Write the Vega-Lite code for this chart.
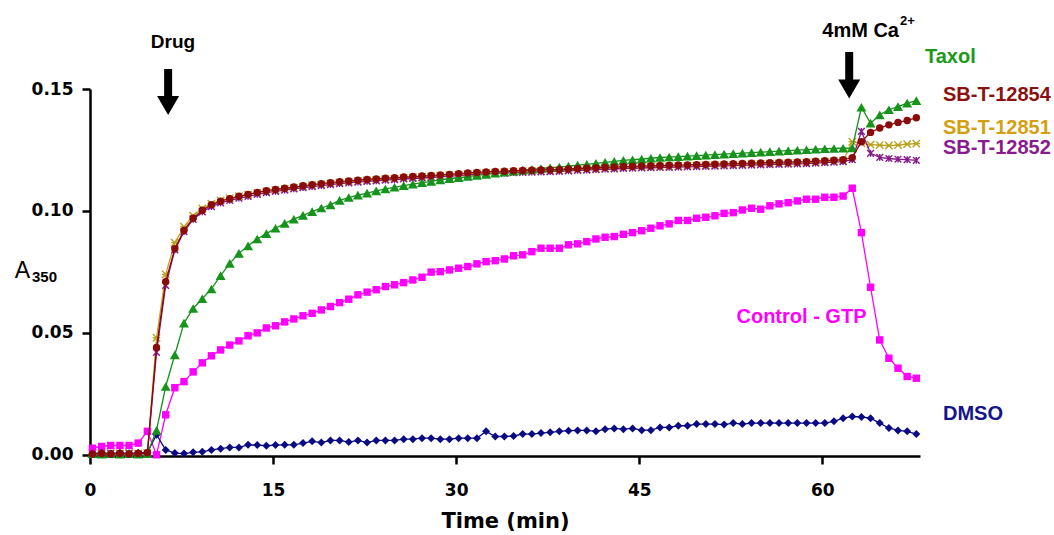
{
"$schema":"https://vega.github.io/schema/vega-lite/v6.json",
"width":830,"height":367,
"autosize":{"type":"none"},
"padding":{"left":90,"top":89,"right":134,"bottom":79},
"background":"white",
"config":{"view":{"stroke":null}},
"datasets":{
"control":[{"t":0.2,"v":0.0027},{"t":0.95,"v":0.0034},{"t":1.7,"v":0.0038},{"t":2.45,"v":0.0038},{"t":3.2,"v":0.0038},{"t":3.95,"v":0.0048},{"t":4.7,"v":0.0096},{"t":5.45,"v":0.0},{"t":6.2,"v":0.0164},{"t":6.95,"v":0.0275},{"t":7.7,"v":0.030},{"t":8.45,"v":0.034},{"t":9.2,"v":0.0377},{"t":9.95,"v":0.0406},{"t":10.7,"v":0.043},{"t":11.45,"v":0.045},{"t":12.2,"v":0.0467},{"t":12.95,"v":0.0488},{"t":13.7,"v":0.050},{"t":14.45,"v":0.052},{"t":15.2,"v":0.0529},{"t":15.95,"v":0.0545},{"t":16.7,"v":0.0557},{"t":17.45,"v":0.057},{"t":18.2,"v":0.058},{"t":18.95,"v":0.0594},{"t":19.7,"v":0.0608},{"t":20.45,"v":0.0624},{"t":21.2,"v":0.0638},{"t":21.95,"v":0.0656},{"t":22.7,"v":0.0667},{"t":23.45,"v":0.0677},{"t":24.2,"v":0.069},{"t":24.95,"v":0.0697},{"t":25.7,"v":0.0706},{"t":26.45,"v":0.0717},{"t":27.2,"v":0.0728},{"t":27.95,"v":0.0749},{"t":28.7,"v":0.0751},{"t":29.45,"v":0.0758},{"t":30.2,"v":0.0765},{"t":30.95,"v":0.0772},{"t":31.7,"v":0.0783},{"t":32.45,"v":0.0792},{"t":33.2,"v":0.0796},{"t":33.95,"v":0.0803},{"t":34.7,"v":0.0816},{"t":35.45,"v":0.082},{"t":36.2,"v":0.0833},{"t":36.95,"v":0.0847},{"t":37.7,"v":0.0847},{"t":38.45,"v":0.0847},{"t":39.2,"v":0.0861},{"t":39.95,"v":0.0865},{"t":40.7,"v":0.0874},{"t":41.45,"v":0.0885},{"t":42.2,"v":0.0892},{"t":42.95,"v":0.0895},{"t":43.7,"v":0.0904},{"t":44.45,"v":0.0911},{"t":45.2,"v":0.0919},{"t":45.95,"v":0.0929},{"t":46.7,"v":0.0939},{"t":47.45,"v":0.0947},{"t":48.2,"v":0.0961},{"t":48.95,"v":0.0961},{"t":49.7,"v":0.097},{"t":50.45,"v":0.0974},{"t":51.2,"v":0.098},{"t":51.95,"v":0.099},{"t":52.7,"v":0.0993},{"t":53.45,"v":0.1004},{"t":54.2,"v":0.1011},{"t":54.95,"v":0.1007},{"t":55.7,"v":0.1021},{"t":56.45,"v":0.1029},{"t":57.2,"v":0.1034},{"t":57.95,"v":0.1041},{"t":58.7,"v":0.1048},{"t":59.45,"v":0.1048},{"t":60.2,"v":0.1056},{"t":60.95,"v":0.1056},{"t":61.7,"v":0.1061},{"t":62.45,"v":0.1093},{"t":63.2,"v":0.0911},{"t":63.95,"v":0.0687},{"t":64.7,"v":0.0471},{"t":65.45,"v":0.0396},{"t":66.2,"v":0.0355},{"t":66.95,"v":0.0321},{"t":67.7,"v":0.0314}],
"dmso":[{"t":0.2,"v":0.0005},{"t":0.95,"v":0.0008},{"t":1.7,"v":0.0005},{"t":2.45,"v":0.0008},{"t":3.2,"v":0.0005},{"t":3.95,"v":0.0008},{"t":4.7,"v":0.001},{"t":5.45,"v":0.0082},{"t":6.2,"v":0.002},{"t":6.95,"v":0.0007},{"t":7.7,"v":0.0005},{"t":8.45,"v":0.001},{"t":9.2,"v":0.0012},{"t":9.95,"v":0.002},{"t":10.7,"v":0.0025},{"t":11.45,"v":0.003},{"t":12.2,"v":0.003},{"t":12.95,"v":0.0041},{"t":13.7,"v":0.004},{"t":14.45,"v":0.0037},{"t":15.2,"v":0.004},{"t":15.95,"v":0.0041},{"t":16.7,"v":0.0041},{"t":17.45,"v":0.0048},{"t":18.2,"v":0.0055},{"t":18.95,"v":0.005},{"t":19.7,"v":0.0059},{"t":20.45,"v":0.0059},{"t":21.2,"v":0.0052},{"t":21.95,"v":0.0059},{"t":22.7,"v":0.005},{"t":23.45,"v":0.0059},{"t":24.2,"v":0.0059},{"t":24.95,"v":0.0059},{"t":25.7,"v":0.0064},{"t":26.45,"v":0.0064},{"t":27.2,"v":0.0068},{"t":27.95,"v":0.0068},{"t":28.7,"v":0.0064},{"t":29.45,"v":0.0064},{"t":30.2,"v":0.0068},{"t":30.95,"v":0.0068},{"t":31.7,"v":0.0068},{"t":32.45,"v":0.0096},{"t":33.2,"v":0.0075},{"t":33.95,"v":0.0075},{"t":34.7,"v":0.0077},{"t":35.45,"v":0.0085},{"t":36.2,"v":0.0085},{"t":36.95,"v":0.0089},{"t":37.7,"v":0.0092},{"t":38.45,"v":0.0096},{"t":39.2,"v":0.0099},{"t":39.95,"v":0.01},{"t":40.7,"v":0.01},{"t":41.45,"v":0.0096},{"t":42.2,"v":0.0105},{"t":42.95,"v":0.0108},{"t":43.7,"v":0.0105},{"t":44.45,"v":0.0108},{"t":45.2,"v":0.0101},{"t":45.95,"v":0.0101},{"t":46.7,"v":0.0112},{"t":47.45,"v":0.0112},{"t":48.2,"v":0.0119},{"t":48.95,"v":0.0119},{"t":49.7,"v":0.0126},{"t":50.45,"v":0.0126},{"t":51.2,"v":0.0126},{"t":51.95,"v":0.0124},{"t":52.7,"v":0.013},{"t":53.45,"v":0.0126},{"t":54.2,"v":0.013},{"t":54.95,"v":0.013},{"t":55.7,"v":0.013},{"t":56.45,"v":0.013},{"t":57.2,"v":0.013},{"t":57.95,"v":0.013},{"t":58.7,"v":0.013},{"t":59.45,"v":0.013},{"t":60.2,"v":0.013},{"t":60.95,"v":0.0137},{"t":61.7,"v":0.015},{"t":62.45,"v":0.0157},{"t":63.2,"v":0.0155},{"t":63.95,"v":0.015},{"t":64.7,"v":0.013},{"t":65.45,"v":0.011},{"t":66.2,"v":0.01},{"t":66.95,"v":0.0096},{"t":67.7,"v":0.0085}],
"red":[{"t":0.2,"v":0.0003},{"t":0.95,"v":0.0005},{"t":1.7,"v":0.0003},{"t":2.45,"v":0.0005},{"t":3.2,"v":0.0003},{"t":3.95,"v":0.0005},{"t":4.7,"v":0.0008},{"t":5.45,"v":0.044},{"t":6.2,"v":0.071},{"t":6.95,"v":0.0845},{"t":7.7,"v":0.092},{"t":8.45,"v":0.097},{"t":9.2,"v":0.1003},{"t":9.95,"v":0.1025},{"t":10.7,"v":0.104},{"t":11.45,"v":0.105},{"t":12.2,"v":0.106},{"t":12.95,"v":0.1068},{"t":13.7,"v":0.1076},{"t":14.45,"v":0.1083},{"t":15.2,"v":0.1088},{"t":15.95,"v":0.1093},{"t":16.7,"v":0.1098},{"t":17.45,"v":0.1103},{"t":18.2,"v":0.1108},{"t":18.95,"v":0.1112},{"t":19.7,"v":0.1116},{"t":20.45,"v":0.112},{"t":21.2,"v":0.1123},{"t":21.95,"v":0.1126},{"t":22.7,"v":0.1129},{"t":23.45,"v":0.1131},{"t":24.2,"v":0.1134},{"t":24.95,"v":0.1136},{"t":25.7,"v":0.1139},{"t":26.45,"v":0.1141},{"t":27.2,"v":0.1143},{"t":27.95,"v":0.1145},{"t":28.7,"v":0.1148},{"t":29.45,"v":0.115},{"t":30.2,"v":0.1153},{"t":30.95,"v":0.1156},{"t":31.7,"v":0.1158},{"t":32.45,"v":0.116},{"t":33.2,"v":0.1162},{"t":33.95,"v":0.1163},{"t":34.7,"v":0.1165},{"t":35.45,"v":0.1166},{"t":36.2,"v":0.1167},{"t":36.95,"v":0.1168},{"t":37.7,"v":0.1169},{"t":38.45,"v":0.117},{"t":39.2,"v":0.1172},{"t":39.95,"v":0.1174},{"t":40.7,"v":0.1175},{"t":41.45,"v":0.1177},{"t":42.2,"v":0.1179},{"t":42.95,"v":0.118},{"t":43.7,"v":0.1182},{"t":44.45,"v":0.1183},{"t":45.2,"v":0.1184},{"t":45.95,"v":0.1185},{"t":46.7,"v":0.1186},{"t":47.45,"v":0.1187},{"t":48.2,"v":0.1188},{"t":48.95,"v":0.1189},{"t":49.7,"v":0.119},{"t":50.45,"v":0.1191},{"t":51.2,"v":0.1192},{"t":51.95,"v":0.1193},{"t":52.7,"v":0.1194},{"t":53.45,"v":0.1195},{"t":54.2,"v":0.1196},{"t":54.95,"v":0.1197},{"t":55.7,"v":0.1198},{"t":56.45,"v":0.1199},{"t":57.2,"v":0.12},{"t":57.95,"v":0.1201},{"t":58.7,"v":0.1202},{"t":59.45,"v":0.1204},{"t":60.2,"v":0.1206},{"t":60.95,"v":0.1208},{"t":61.7,"v":0.121},{"t":62.45,"v":0.1218},{"t":63.2,"v":0.1284},{"t":63.95,"v":0.1322},{"t":64.7,"v":0.134},{"t":65.45,"v":0.1353},{"t":66.2,"v":0.1363},{"t":66.95,"v":0.1371},{"t":67.7,"v":0.1382}],
"purple":[{"t":0.2,"v":0.0005},{"t":0.95,"v":0.0003},{"t":1.7,"v":0.0005},{"t":2.45,"v":0.0003},{"t":3.2,"v":0.0005},{"t":3.95,"v":0.0003},{"t":4.7,"v":0.0005},{"t":5.45,"v":0.042},{"t":6.2,"v":0.0695},{"t":6.95,"v":0.084},{"t":7.7,"v":0.0915},{"t":8.45,"v":0.0965},{"t":9.2,"v":0.0996},{"t":9.95,"v":0.1018},{"t":10.7,"v":0.1033},{"t":11.45,"v":0.1043},{"t":12.2,"v":0.1052},{"t":12.95,"v":0.106},{"t":13.7,"v":0.1068},{"t":14.45,"v":0.1075},{"t":15.2,"v":0.108},{"t":15.95,"v":0.1085},{"t":16.7,"v":0.109},{"t":17.45,"v":0.1095},{"t":18.2,"v":0.11},{"t":18.95,"v":0.1104},{"t":19.7,"v":0.1108},{"t":20.45,"v":0.1112},{"t":21.2,"v":0.1115},{"t":21.95,"v":0.1118},{"t":22.7,"v":0.1121},{"t":23.45,"v":0.1123},{"t":24.2,"v":0.1126},{"t":24.95,"v":0.1128},{"t":25.7,"v":0.1131},{"t":26.45,"v":0.1133},{"t":27.2,"v":0.1135},{"t":27.95,"v":0.1137},{"t":28.7,"v":0.114},{"t":29.45,"v":0.1142},{"t":30.2,"v":0.1145},{"t":30.95,"v":0.1148},{"t":31.7,"v":0.115},{"t":32.45,"v":0.1152},{"t":33.2,"v":0.1154},{"t":33.95,"v":0.1155},{"t":34.7,"v":0.1157},{"t":35.45,"v":0.1158},{"t":36.2,"v":0.1159},{"t":36.95,"v":0.116},{"t":37.7,"v":0.1161},{"t":38.45,"v":0.1162},{"t":39.2,"v":0.1164},{"t":39.95,"v":0.1166},{"t":40.7,"v":0.1167},{"t":41.45,"v":0.1169},{"t":42.2,"v":0.1171},{"t":42.95,"v":0.1172},{"t":43.7,"v":0.1174},{"t":44.45,"v":0.1175},{"t":45.2,"v":0.1176},{"t":45.95,"v":0.1177},{"t":46.7,"v":0.1178},{"t":47.45,"v":0.1179},{"t":48.2,"v":0.118},{"t":48.95,"v":0.1181},{"t":49.7,"v":0.1182},{"t":50.45,"v":0.1183},{"t":51.2,"v":0.1184},{"t":51.95,"v":0.1185},{"t":52.7,"v":0.1186},{"t":53.45,"v":0.1187},{"t":54.2,"v":0.1188},{"t":54.95,"v":0.1189},{"t":55.7,"v":0.119},{"t":56.45,"v":0.1191},{"t":57.2,"v":0.1192},{"t":57.95,"v":0.1193},{"t":58.7,"v":0.1194},{"t":59.45,"v":0.1196},{"t":60.2,"v":0.1198},{"t":60.95,"v":0.12},{"t":61.7,"v":0.1202},{"t":62.45,"v":0.121},{"t":63.2,"v":0.1326},{"t":63.95,"v":0.1236},{"t":64.7,"v":0.122},{"t":65.45,"v":0.1215},{"t":66.2,"v":0.1212},{"t":66.95,"v":0.121},{"t":67.7,"v":0.1207}],
"gold":[{"t":0.2,"v":0.0008},{"t":0.95,"v":0.0005},{"t":1.7,"v":0.0008},{"t":2.45,"v":0.0005},{"t":3.2,"v":0.0008},{"t":3.95,"v":0.0005},{"t":4.7,"v":0.0008},{"t":5.45,"v":0.048},{"t":6.2,"v":0.074},{"t":6.95,"v":0.087},{"t":7.7,"v":0.0935},{"t":8.45,"v":0.098},{"t":9.2,"v":0.101},{"t":9.95,"v":0.103},{"t":10.7,"v":0.1043},{"t":11.45,"v":0.1052},{"t":12.2,"v":0.106},{"t":12.95,"v":0.1067},{"t":13.7,"v":0.1074},{"t":14.45,"v":0.108},{"t":15.2,"v":0.1085},{"t":15.95,"v":0.109},{"t":16.7,"v":0.1095},{"t":17.45,"v":0.11},{"t":18.2,"v":0.1105},{"t":18.95,"v":0.1109},{"t":19.7,"v":0.1113},{"t":20.45,"v":0.1116},{"t":21.2,"v":0.1119},{"t":21.95,"v":0.1122},{"t":22.7,"v":0.1125},{"t":23.45,"v":0.1127},{"t":24.2,"v":0.113},{"t":24.95,"v":0.1132},{"t":25.7,"v":0.1135},{"t":26.45,"v":0.1137},{"t":27.2,"v":0.1139},{"t":27.95,"v":0.1141},{"t":28.7,"v":0.1144},{"t":29.45,"v":0.1146},{"t":30.2,"v":0.1149},{"t":30.95,"v":0.1152},{"t":31.7,"v":0.1154},{"t":32.45,"v":0.1156},{"t":33.2,"v":0.1158},{"t":33.95,"v":0.1159},{"t":34.7,"v":0.1161},{"t":35.45,"v":0.1162},{"t":36.2,"v":0.1163},{"t":36.95,"v":0.1164},{"t":37.7,"v":0.1165},{"t":38.45,"v":0.1166},{"t":39.2,"v":0.1168},{"t":39.95,"v":0.117},{"t":40.7,"v":0.1171},{"t":41.45,"v":0.1173},{"t":42.2,"v":0.1175},{"t":42.95,"v":0.1176},{"t":43.7,"v":0.1178},{"t":44.45,"v":0.1179},{"t":45.2,"v":0.118},{"t":45.95,"v":0.1181},{"t":46.7,"v":0.1182},{"t":47.45,"v":0.1183},{"t":48.2,"v":0.1184},{"t":48.95,"v":0.1185},{"t":49.7,"v":0.1186},{"t":50.45,"v":0.1187},{"t":51.2,"v":0.1188},{"t":51.95,"v":0.1189},{"t":52.7,"v":0.119},{"t":53.45,"v":0.1191},{"t":54.2,"v":0.1192},{"t":54.95,"v":0.1193},{"t":55.7,"v":0.1194},{"t":56.45,"v":0.1195},{"t":57.2,"v":0.1196},{"t":57.95,"v":0.1197},{"t":58.7,"v":0.1198},{"t":59.45,"v":0.12},{"t":60.2,"v":0.1202},{"t":60.95,"v":0.1204},{"t":61.7,"v":0.1206},{"t":62.45,"v":0.1284},{"t":63.2,"v":0.1277},{"t":63.95,"v":0.1272},{"t":64.7,"v":0.127},{"t":65.45,"v":0.1268},{"t":66.2,"v":0.127},{"t":66.95,"v":0.1274},{"t":67.7,"v":0.1276}],
"taxol":[{"t":0.2,"v":0.0005},{"t":0.95,"v":0.0003},{"t":1.7,"v":0.0005},{"t":2.45,"v":0.0003},{"t":3.2,"v":0.0005},{"t":3.95,"v":0.0003},{"t":4.7,"v":0.0005},{"t":5.45,"v":0.010},{"t":6.2,"v":0.028},{"t":6.95,"v":0.041},{"t":7.7,"v":0.054},{"t":8.45,"v":0.060},{"t":9.2,"v":0.064},{"t":9.95,"v":0.068},{"t":10.7,"v":0.0735},{"t":11.45,"v":0.0785},{"t":12.2,"v":0.0826},{"t":12.95,"v":0.0857},{"t":13.7,"v":0.0885},{"t":14.45,"v":0.0907},{"t":15.2,"v":0.0929},{"t":15.95,"v":0.0949},{"t":16.7,"v":0.0966},{"t":17.45,"v":0.0982},{"t":18.2,"v":0.0997},{"t":18.95,"v":0.1012},{"t":19.7,"v":0.1025},{"t":20.45,"v":0.1043},{"t":21.2,"v":0.1055},{"t":21.95,"v":0.1065},{"t":22.7,"v":0.1073},{"t":23.45,"v":0.1082},{"t":24.2,"v":0.109},{"t":24.95,"v":0.1097},{"t":25.7,"v":0.1104},{"t":26.45,"v":0.111},{"t":27.2,"v":0.1116},{"t":27.95,"v":0.1121},{"t":28.7,"v":0.1127},{"t":29.45,"v":0.1132},{"t":30.2,"v":0.1136},{"t":30.95,"v":0.1141},{"t":31.7,"v":0.1146},{"t":32.45,"v":0.115},{"t":33.2,"v":0.1155},{"t":33.95,"v":0.1159},{"t":34.7,"v":0.1163},{"t":35.45,"v":0.1167},{"t":36.2,"v":0.117},{"t":36.95,"v":0.1174},{"t":37.7,"v":0.1177},{"t":38.45,"v":0.118},{"t":39.2,"v":0.1184},{"t":39.95,"v":0.1188},{"t":40.7,"v":0.1191},{"t":41.45,"v":0.1195},{"t":42.2,"v":0.1199},{"t":42.95,"v":0.1203},{"t":43.7,"v":0.1207},{"t":44.45,"v":0.121},{"t":45.2,"v":0.1213},{"t":45.95,"v":0.1216},{"t":46.7,"v":0.1219},{"t":47.45,"v":0.1221},{"t":48.2,"v":0.1223},{"t":48.95,"v":0.1225},{"t":49.7,"v":0.1227},{"t":50.45,"v":0.1229},{"t":51.2,"v":0.1231},{"t":51.95,"v":0.1233},{"t":52.7,"v":0.1235},{"t":53.45,"v":0.1237},{"t":54.2,"v":0.1239},{"t":54.95,"v":0.1241},{"t":55.7,"v":0.1243},{"t":56.45,"v":0.1245},{"t":57.2,"v":0.1247},{"t":57.95,"v":0.1249},{"t":58.7,"v":0.1251},{"t":59.45,"v":0.1253},{"t":60.2,"v":0.1255},{"t":60.95,"v":0.1256},{"t":61.7,"v":0.1257},{"t":62.45,"v":0.1258},{"t":63.2,"v":0.1425},{"t":63.95,"v":0.136},{"t":64.7,"v":0.1394},{"t":65.45,"v":0.1415},{"t":66.2,"v":0.1428},{"t":66.95,"v":0.1442},{"t":67.7,"v":0.1452}],
"shafts":[{"t":6.4,"v":0.1582,"v2":0.1463},{"t":62.2,"v":0.1652,"v2":0.1537}],
"heads":[{"t":6.4,"v":0.1432},{"t":62.2,"v":0.150}],
"rightLabels":[{"label":"Taxol","t":68.41,"v":0.1631},{"label":"SB-T-12854","t":69.88,"v":0.1475},{"label":"SB-T-12851","t":69.88,"v":0.134},{"label":"SB-T-12852","t":69.88,"v":0.1258},{"label":"DMSO","t":69.88,"v":0.0167}],
"controlLabel":[{"label":"Control - GTP","t":58.29,"v":0.0565}],
"drugLabel":[{"label":"Drug","t":6.8,"v":0.1693}],
"caLabel":[{"label":"4mM Ca","t":66.28,"v":0.1738}],
"caSup":[{"label":"2+","t":66.36,"v":0.1779}],
"aLabel":[{"label":"A","t":-5.53,"v":0.0725}],
"aSub":[{"label":"350","t":-4.75,"v":0.0709}]
},
"encoding":{
"x":{"field":"t","type":"quantitative","scale":{"domain":[0,68],"nice":false,"zero":false},
"axis":{"values":[0,15,30,45,60],"title":"Time (min)","grid":false,"domainColor":"black","domainWidth":2.5,"tickColor":"black","tickWidth":2.5,"tickSize":8,"labelFont":"DejaVu Sans","labelFontWeight":"bold","labelFontSize":17,"labelColor":"black","labelPadding":18,"labelFlush":false,"titleFont":"DejaVu Sans","titleFontWeight":"bold","titleFontSize":21,"titleColor":"black","titlePadding":12}},
"y":{"field":"v","type":"quantitative","scale":{"domain":[-0.0005,0.15],"nice":false,"zero":false},
"axis":{"values":[0,0.05,0.1,0.15],"format":".2f","title":null,"grid":false,"domainColor":"black","domainWidth":2.5,"tickColor":"black","tickWidth":2.5,"tickSize":8,"labelFont":"DejaVu Sans","labelFontWeight":"bold","labelFontSize":17,"labelColor":"black","labelPadding":9}}
},
"layer":[
{"data":{"name":"gold"},"mark":{"type":"line","color":"#C4A31A","strokeWidth":1.3,"point":{"shape":"M-1,-1L1,1M-1,1L1,-1M-1,0L1,0","size":55,"filled":false,"stroke":"#B9A11C","strokeWidth":1.4}}},
{"data":{"name":"purple"},"mark":{"type":"line","color":"#86198C","strokeWidth":1.3,"point":{"shape":"M-1,-1L1,1M-1,1L1,-1M0,-1L0,1","size":45,"filled":false,"stroke":"#86198C","strokeWidth":1.4}}},
{"data":{"name":"control"},"mark":{"type":"line","color":"#FF00FF","strokeWidth":1.3,"point":{"shape":"square","size":55,"filled":true,"color":"#FF00FF"}}},
{"data":{"name":"dmso"},"mark":{"type":"line","color":"#0A0A85","strokeWidth":1.3,"point":{"shape":"diamond","size":64,"filled":true,"color":"#0A0A85"}}},
{"data":{"name":"taxol"},"mark":{"type":"line","color":"#15931A","strokeWidth":1.3,"point":{"shape":"triangle-up","size":100,"filled":true,"color":"#15931A"}}},
{"data":{"name":"red"},"mark":{"type":"line","color":"#8B0A0A","strokeWidth":1.3,"point":{"shape":"circle","size":55,"filled":true,"color":"#8B0A0A"}}},
{"data":{"name":"shafts"},"mark":{"type":"rule","color":"black","strokeWidth":8},"encoding":{"y2":{"field":"v2"}}},
{"data":{"name":"heads"},"mark":{"type":"point","shape":"triangle-down","size":484,"filled":true,"color":"black","opacity":1}},
{"data":{"name":"rightLabels"},"mark":{"type":"text","align":"left","baseline":"middle","font":"Liberation Sans","fontWeight":"bold","fontSize":20},
"encoding":{"text":{"field":"label"},"color":{"field":"label","type":"nominal","scale":{"domain":["Taxol","SB-T-12854","SB-T-12851","SB-T-12852","DMSO"],"range":["#1A9A1A","#8B1010","#D4A010","#8A1A8F","#14148C"]},"legend":null}}},
{"data":{"name":"controlLabel"},"mark":{"type":"text","align":"center","baseline":"middle","font":"Liberation Sans","fontWeight":"bold","fontSize":20,"color":"#FF00FF"},"encoding":{"text":{"field":"label"}}},
{"data":{"name":"drugLabel"},"mark":{"type":"text","align":"center","baseline":"middle","font":"Liberation Sans","fontWeight":"bold","fontSize":19,"color":"black"},"encoding":{"text":{"field":"label"}}},
{"data":{"name":"caLabel"},"mark":{"type":"text","align":"right","baseline":"middle","font":"Liberation Sans","fontWeight":"bold","fontSize":20,"color":"black"},"encoding":{"text":{"field":"label"}}},
{"data":{"name":"caSup"},"mark":{"type":"text","align":"left","baseline":"middle","font":"Liberation Sans","fontWeight":"bold","fontSize":13,"color":"black"},"encoding":{"text":{"field":"label"}}},
{"data":{"name":"aLabel"},"mark":{"type":"text","align":"center","baseline":"alphabetic","font":"Liberation Sans","fontSize":23,"color":"black"},"encoding":{"text":{"field":"label"}}},
{"data":{"name":"aSub"},"mark":{"type":"text","align":"left","baseline":"alphabetic","font":"Liberation Sans","fontWeight":"bold","fontSize":15,"color":"black"},"encoding":{"text":{"field":"label"}}}
]
}
